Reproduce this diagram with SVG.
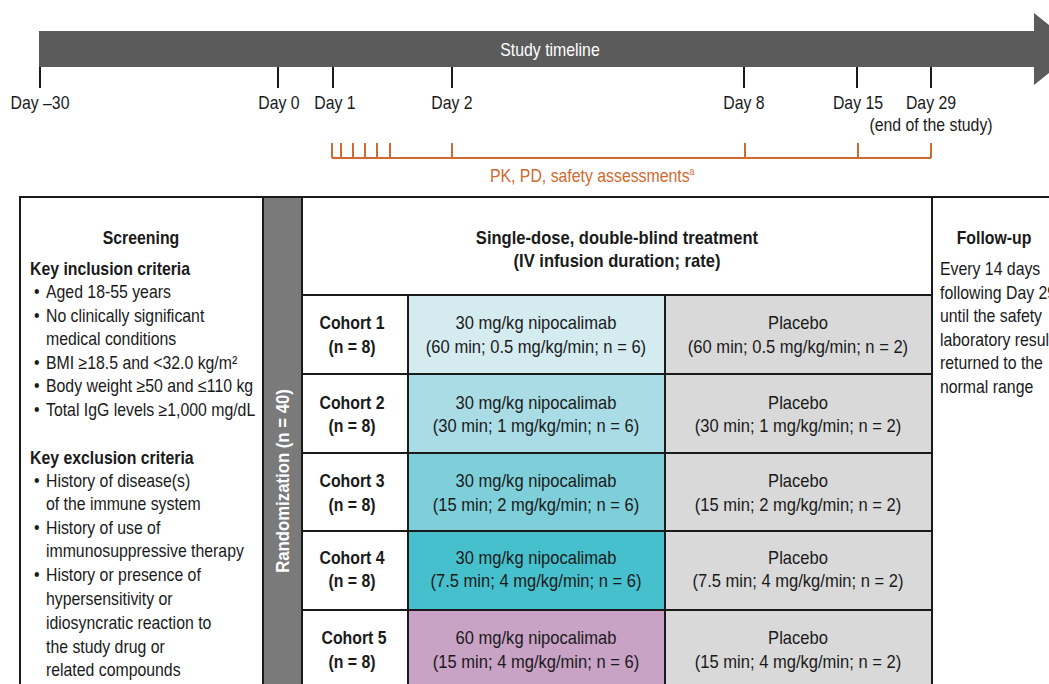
<svg xmlns="http://www.w3.org/2000/svg" width="1049" height="684" viewBox="0 0 1049 684">
<style>
text{font-family:"Liberation Sans",Arial,sans-serif;font-size:18px;fill:#1a1a1a}
.b{font-weight:bold}
.c{text-anchor:middle}
.w{fill:#fff}
.o{fill:#d2692f}
.tick{stroke:#1a1a1a;stroke-width:2}
.otick{stroke:#d2692f;stroke-width:2;fill:none}
.cell{stroke:#1a1a1a;stroke-width:2}
</style>
<rect width="1049" height="684" fill="#fff"/>
<g id="timeline">
<polygon points="39,31 1034,31 1034,13 1079,49 1034,85 1034,67 39,67" fill="#5b5b5b"/>
<path class="tick" d="M40,67V88M278,67V88M333,67V88M452,67V88M744,67V88M857,67V88M931,67V88"/>
<g transform="scale(0.88,1)">
<text class="c w" x="625" y="56">Study timeline</text>
<text class="c" x="45.45" y="109">Day –30</text>
<text class="c" x="317.05" y="109">Day 0</text>
<text class="c" x="380.68" y="109">Day 1</text>
<text class="c" x="513.64" y="109">Day 2</text>
<text class="c" x="845.45" y="109">Day 8</text>
<text class="c" x="975" y="109">Day 15</text>
<text class="c" x="1057.95" y="109">Day 29</text>
<text class="c" x="1057.95" y="131">(end of the study)</text>
</g>
</g>
<g id="assessments">
<path class="otick" d="M332,158H931M332,143V158M341,143V158M353,143V158M365,143V158M377,143V158M390,143V158M452,143V158M745,143V158M858,143V158M931,143V158"/>
<g transform="scale(0.88,1)">
<text class="c o" x="673" y="182">PK, PD, safety assessments<tspan font-size="10" dy="-7">a</tspan></text>
</g>
</g>
<g id="screening">
<rect class="cell" x="20" y="197" width="243" height="500" fill="#fff"/>
<g transform="scale(0.88,1)">
<text class="b c" x="160.23" y="244">Screening</text>
<text class="b" x="34.09" y="275">Key inclusion criteria</text>
<text x="38.64" y="298">•</text><text x="52.27" y="298">Aged 18-55 years</text>
<text x="38.64" y="322">•</text><text x="52.27" y="322">No clinically significant</text>
<text x="52.27" y="345">medical conditions</text>
<text x="38.64" y="369">•</text><text x="52.27" y="369">BMI ≥18.5 and &lt;32.0 kg/m²</text>
<text x="38.64" y="392">•</text><text x="52.27" y="392">Body weight ≥50 and ≤110 kg</text>
<text x="38.64" y="416">•</text><text x="52.27" y="416">Total IgG levels ≥1,000 mg/dL</text>
<text class="b" x="34.09" y="464">Key exclusion criteria</text>
<text x="38.64" y="487">•</text><text x="52.27" y="487">History of disease(s)</text>
<text x="52.27" y="510">of the immune system</text>
<text x="38.64" y="534">•</text><text x="52.27" y="534">History of use of</text>
<text x="52.27" y="557">immunosuppressive therapy</text>
<text x="38.64" y="581">•</text><text x="52.27" y="581">History or presence of</text>
<text x="52.27" y="605">hypersensitivity or</text>
<text x="52.27" y="629">idiosyncratic reaction to</text>
<text x="52.27" y="653">the study drug or</text>
<text x="52.27" y="676">related compounds</text>
</g>
</g>
<g id="randomization">
<rect class="cell" x="263" y="197" width="39" height="500" fill="#7a7a7a"/>
<text class="b c w" transform="translate(289,481) rotate(-90) scale(0.93,1)">Randomization (n = 40)</text>
</g>
<g id="treatment-header">
<rect class="cell" x="302" y="197" width="630" height="98" fill="#fff"/>
<g transform="scale(0.92,1)">
<text class="b c" x="670.65" y="244">Single-dose, double-blind treatment</text>
<text class="b c" x="670.65" y="267">(IV infusion duration; rate)</text>
</g>
</g>
<g id="cohort1">
<rect class="cell" x="302" y="295" width="106" height="79" fill="#fff"/>
<rect class="cell" x="408" y="295" width="257" height="79" fill="#d4ebf0"/>
<rect class="cell" x="665" y="295" width="267" height="79" fill="#d9d9d9"/>
<g transform="scale(0.88,1)">
<text class="b c" x="400" y="329">Cohort 1</text><text class="b c" x="400" y="353">(n = 8)</text>
</g>
<g transform="scale(0.92,1)">
<text class="c" x="582.61" y="329">30 mg/kg nipocalimab</text><text class="c" x="582.61" y="353">(60 min; 0.5 mg/kg/min; n = 6)</text>
<text class="c" x="867.39" y="329">Placebo</text><text class="c" x="867.39" y="353">(60 min; 0.5 mg/kg/min; n = 2)</text>
</g>
</g>
<g id="cohort2">
<rect class="cell" x="302" y="374" width="106" height="79" fill="#fff"/>
<rect class="cell" x="408" y="374" width="257" height="79" fill="#a9dce5"/>
<rect class="cell" x="665" y="374" width="267" height="79" fill="#d9d9d9"/>
<g transform="scale(0.88,1)">
<text class="b c" x="400" y="409">Cohort 2</text><text class="b c" x="400" y="432">(n = 8)</text>
</g>
<g transform="scale(0.92,1)">
<text class="c" x="582.61" y="409">30 mg/kg nipocalimab</text><text class="c" x="582.61" y="432">(30 min; 1 mg/kg/min; n = 6)</text>
<text class="c" x="867.39" y="409">Placebo</text><text class="c" x="867.39" y="432">(30 min; 1 mg/kg/min; n = 2)</text>
</g>
</g>
<g id="cohort3">
<rect class="cell" x="302" y="453" width="106" height="78" fill="#fff"/>
<rect class="cell" x="408" y="453" width="257" height="78" fill="#7ecfda"/>
<rect class="cell" x="665" y="453" width="267" height="78" fill="#d9d9d9"/>
<g transform="scale(0.88,1)">
<text class="b c" x="400" y="487">Cohort 3</text><text class="b c" x="400" y="511">(n = 8)</text>
</g>
<g transform="scale(0.92,1)">
<text class="c" x="582.61" y="487">30 mg/kg nipocalimab</text><text class="c" x="582.61" y="511">(15 min; 2 mg/kg/min; n = 6)</text>
<text class="c" x="867.39" y="487">Placebo</text><text class="c" x="867.39" y="511">(15 min; 2 mg/kg/min; n = 2)</text>
</g>
</g>
<g id="cohort4">
<rect class="cell" x="302" y="531" width="106" height="79" fill="#fff"/>
<rect class="cell" x="408" y="531" width="257" height="79" fill="#46c0cd"/>
<rect class="cell" x="665" y="531" width="267" height="79" fill="#d9d9d9"/>
<g transform="scale(0.88,1)">
<text class="b c" x="400" y="564">Cohort 4</text><text class="b c" x="400" y="587">(n = 8)</text>
</g>
<g transform="scale(0.92,1)">
<text class="c" x="582.61" y="564">30 mg/kg nipocalimab</text><text class="c" x="582.61" y="587">(7.5 min; 4 mg/kg/min; n = 6)</text>
<text class="c" x="867.39" y="564">Placebo</text><text class="c" x="867.39" y="587">(7.5 min; 4 mg/kg/min; n = 2)</text>
</g>
</g>
<g id="cohort5">
<rect class="cell" x="302" y="610" width="106" height="90" fill="#fff"/>
<rect class="cell" x="408" y="610" width="257" height="90" fill="#c9a3c6"/>
<rect class="cell" x="665" y="610" width="267" height="90" fill="#d9d9d9"/>
<g transform="scale(0.88,1)">
<text class="b c" x="402.27" y="644">Cohort 5</text><text class="b c" x="400" y="668">(n = 8)</text>
</g>
<g transform="scale(0.92,1)">
<text class="c" x="582.61" y="644">60 mg/kg nipocalimab</text><text class="c" x="582.61" y="668">(15 min; 4 mg/kg/min; n = 6)</text>
<text class="c" x="867.39" y="644">Placebo</text><text class="c" x="867.39" y="668">(15 min; 4 mg/kg/min; n = 2)</text>
</g>
</g>
<g id="follow-up">
<path class="cell" d="M932,197H1049M932,197V700" fill="none"/>
<g transform="scale(0.88,1)">
<text class="b c" x="1129.55" y="244">Follow-up</text>
<text x="1068.18" y="275">Every 14 days</text>
<text x="1068.18" y="299">following Day 29</text>
<text x="1068.18" y="322">until the safety</text>
<text x="1068.18" y="346">laboratory results</text>
<text x="1068.18" y="369">returned to the</text>
<text x="1068.18" y="393">normal range</text>
</g>
</g>
<g id="connectors"></g>
</svg>
